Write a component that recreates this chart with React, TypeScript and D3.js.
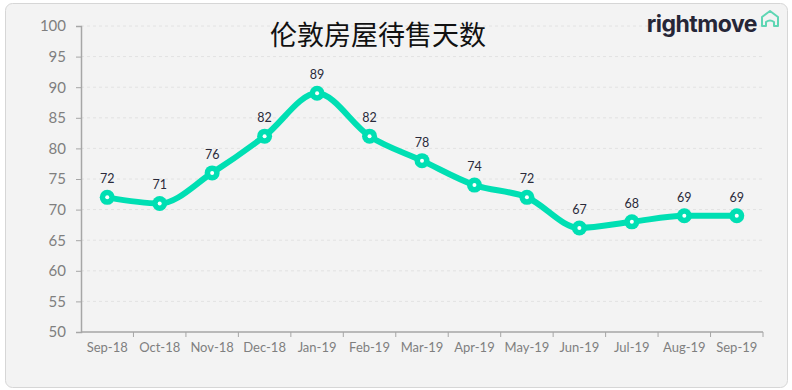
import React, { useEffect, useRef } from "react";
import * as d3 from "d3";

const months = ["Sep-18", "Oct-18", "Nov-18", "Dec-18", "Jan-19", "Feb-19", "Mar-19", "Apr-19", "May-19", "Jun-19", "Jul-19", "Aug-19", "Sep-19"];
const daysOnMarket = [72, 71, 76, 82, 89, 82, 78, 74, 72, 67, 68, 69, 69];
const yTicks = [50, 55, 60, 65, 70, 75, 80, 85, 90, 95, 100];
const title = "伦敦房屋待售天数";

const App = () => {
  const svgRef = useRef<SVGSVGElement>(null);

  useEffect(() => {
    const width = 792;
    const height = 390;
    const margin = { left: 81, right: 29, top: 26, bottom: 58 };

    const svg = d3.select(svgRef.current);
    svg.selectAll("*").remove();

    // card background
    svg.append("rect")
      .attr("x", 5.5).attr("y", 3.5)
      .attr("width", 782).attr("height", 384)
      .attr("rx", 7)
      .attr("fill", "#f3f3f3")
      .attr("stroke", "#d6d6d6");

    const x = d3.scaleBand()
      .domain(months)
      .range([margin.left, width - margin.right]);

    const y = d3.scaleLinear()
      .domain([50, 100])
      .range([height - margin.bottom, margin.top]);

    // grid lines
    svg.append("g")
      .selectAll("line")
      .data(yTicks.slice(1))
      .join("line")
      .attr("x1", margin.left)
      .attr("x2", width - margin.right)
      .attr("y1", (d) => y(d))
      .attr("y2", (d) => y(d))
      .attr("stroke", "#e2e2e2")
      .attr("stroke-dasharray", "3,3");

    // y axis
    const yAxis = svg.append("g")
      .attr("transform", `translate(${margin.left},0)`)
      .call(d3.axisLeft(y).tickValues(yTicks).tickSize(5).tickPadding(10));
    yAxis.select(".domain").attr("stroke", "#a6a6a6").attr("stroke-width", 1.5);
    yAxis.selectAll(".tick line").attr("stroke", "#a6a6a6");
    yAxis.selectAll("text")
      .attr("fill", "#7f7f7f")
      .attr("font-size", 15)
      .attr("font-family", "Lato, sans-serif");

    // x axis with ticks between categories
    const xAxisG = svg.append("g")
      .attr("transform", `translate(0,${height - margin.bottom})`);
    xAxisG.append("line")
      .attr("x1", margin.left).attr("x2", width - margin.right)
      .attr("stroke", "#a6a6a6").attr("stroke-width", 1.5);
    xAxisG.selectAll("line.tk")
      .data(months)
      .join("line")
      .attr("class", "tk")
      .attr("x1", (d) => (x(d) as number) + x.bandwidth())
      .attr("x2", (d) => (x(d) as number) + x.bandwidth())
      .attr("y1", 0).attr("y2", 5)
      .attr("stroke", "#a6a6a6");
    xAxisG.selectAll("text")
      .data(months)
      .join("text")
      .attr("x", (d) => (x(d) as number) + x.bandwidth() / 2)
      .attr("y", 19.5)
      .attr("text-anchor", "middle")
      .attr("fill", "#7f7f7f")
      .attr("font-size", 13)
      .attr("font-family", "Lato, sans-serif")
      .text((d) => d);

    const cx = (i: number) => (x(months[i]) as number) + x.bandwidth() / 2;

    // line
    const line = d3.line<number>()
      .x((_, i) => cx(i))
      .y((d) => y(d))
      .curve(d3.curveMonotoneX);

    svg.append("path")
      .datum(daysOnMarket)
      .attr("d", line)
      .attr("fill", "none")
      .attr("stroke", "#00dfb3")
      .attr("stroke-width", 6)
      .attr("stroke-linecap", "round");

    // markers
    const pts = svg.append("g")
      .selectAll("g")
      .data(daysOnMarket)
      .join("g")
      .attr("transform", (d, i) => `translate(${cx(i)},${y(d)})`);
    pts.append("circle").attr("r", 7.5).attr("fill", "#00dfb3");
    pts.append("circle").attr("r", 2).attr("fill", "#ffffff");
    pts.append("text")
      .attr("y", -14)
      .attr("text-anchor", "middle")
      .attr("fill", "#2a2a3a")
      .attr("font-size", 12.5)
      .attr("font-family", "Lato, sans-serif")
      .text((d) => d);

    // title
    svg.append("text")
      .attr("x", 378)
      .attr("y", 45)
      .attr("text-anchor", "middle")
      .attr("font-size", 27)
      .attr("font-family", "'Noto Sans CJK SC', sans-serif")
      .attr("fill", "#111")
      .text(title);

    // logo
    svg.append("text")
      .attr("x", 757)
      .attr("y", 32)
      .attr("text-anchor", "end")
      .attr("font-size", 23)
      .attr("font-weight", "bold")
      .attr("font-family", "Inter, 'Noto Sans', sans-serif")
      .attr("letter-spacing", -0.5)
      .attr("fill", "#262637")
      .text("rightmove");
    svg.append("path")
      .attr("d", "M762,26 L762,17 L770,11 L778,17 L778,26 L774,26 L774,22 Q770,19 766,22 L766,26 Z")
      .attr("fill", "none")
      .attr("stroke", "#5fd6b4")
      .attr("stroke-width", 2)
      .attr("stroke-linejoin", "round");
  }, []);

  return (
    <svg ref={svgRef} width={792} height={390} style={{ position: "absolute", left: 0, top: 0 }} />
  );
};

export default App;
